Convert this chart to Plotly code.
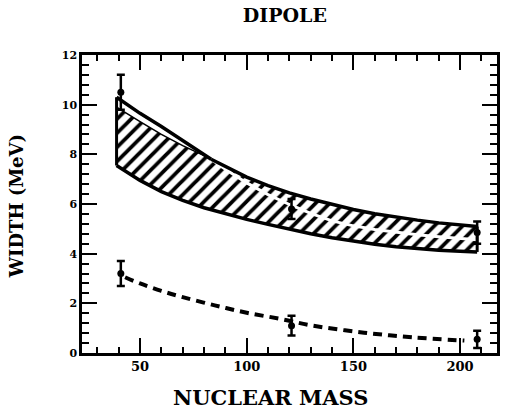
import numpy as np
import plotly.graph_objects as go

# ---------------- data ----------------
band_x = [39, 45, 50, 60, 70, 80, 90, 100, 110, 120, 130, 140, 150, 160, 170, 180, 190, 200, 208]
band_upper = [9.9, 9.6, 9.32, 8.8, 8.35, 7.95, 7.5, 7.08, 6.74, 6.45, 6.2, 5.98, 5.78, 5.61, 5.47, 5.35, 5.24, 5.15, 5.09]
band_lower = [7.55, 7.2, 6.95, 6.5, 6.15, 5.85, 5.6, 5.38, 5.18, 4.98, 4.8, 4.64, 4.5, 4.38, 4.28, 4.2, 4.14, 4.1, 4.07]
curve_c = [10.3, 9.95, 9.65, 9.12, 8.55, 8.0, 7.4, 6.85, 6.38, 5.98, 5.62, 5.32, 5.12, 4.97, 4.86, 4.76, 4.68, 4.61, 4.56]

dash_x = [43, 50, 60, 70, 85, 100, 116, 131, 155, 178, 202]
dash_y = [3.05, 2.8, 2.5, 2.25, 1.92, 1.62, 1.37, 1.1, 0.82, 0.63, 0.5]

pts_x = [41, 121, 208]
upper_pts_y = [10.5, 5.8, 4.85]
upper_pts_err = [0.7, 0.4, 0.45]
lower_pts_y = [3.2, 1.1, 0.55]
lower_pts_err = [0.5, 0.4, 0.35]

x_tick_step = 50
y_tick_step = 2

# ---------------- figure ----------------
fig = go.Figure()
bx = np.array(band_x, float)
bu = np.array(band_upper, float)
bl = np.array(band_lower, float)
cc = np.array(curve_c, float)

# hatched band
fig.add_trace(go.Scatter(
    x=list(bx) + list(bx[::-1]), y=list(bu) + list(bl[::-1]),
    fill="toself", mode="lines", line=dict(width=0, color="black"),
    fillcolor="white",
    fillpattern=dict(shape="/", fgcolor="black", bgcolor="white", size=10, solidity=0.38),
    hoverinfo="skip"))

# crossing of curve C with the upper band edge
d = cc - bu
k = int(np.argmax(d < 0))
t = d[k - 1] / (d[k - 1] - d[k])
xc = bx[k - 1] + t * (bx[k] - bx[k - 1])
yc = bu[k - 1] + t * (bu[k] - bu[k - 1])

cx_out = list(bx[:k]) + [xc]
cy_out = list(cc[:k]) + [yc]
cx_in = [xc] + list(bx[k:])
cy_in = [yc] + list(cc[k:])
ux_in = list(bx[:k]) + [xc]
uy_in = list(bu[:k]) + [yc]
ux_out = [xc] + list(bx[k:])
uy_out = [yc] + list(bu[k:])

black = "black"
fig.add_trace(go.Scatter(x=cx_in, y=cy_in, mode="lines",
                         line=dict(color="white", width=3), hoverinfo="skip"))
fig.add_trace(go.Scatter(x=ux_in, y=uy_in, mode="lines",
                         line=dict(color=black, width=1.5), hoverinfo="skip"))
fig.add_trace(go.Scatter(x=cx_out, y=cy_out, mode="lines",
                         line=dict(color=black, width=3.5), hoverinfo="skip"))
fig.add_trace(go.Scatter(x=ux_out, y=uy_out, mode="lines",
                         line=dict(color=black, width=3.5), hoverinfo="skip"))
fig.add_trace(go.Scatter(x=list(bx), y=list(bl), mode="lines",
                         line=dict(color=black, width=3.5), hoverinfo="skip"))
fig.add_trace(go.Scatter(x=[bx[0], bx[0]], y=[bl[0], cc[0]], mode="lines",
                         line=dict(color=black, width=3), hoverinfo="skip"))
fig.add_trace(go.Scatter(x=[bx[-1], bx[-1]], y=[bl[-1], bu[-1]], mode="lines",
                         line=dict(color=black, width=3), hoverinfo="skip"))

# dashed curve
fig.add_trace(go.Scatter(x=dash_x, y=dash_y, mode="lines", line_shape="spline",
                         line=dict(color=black, width=4, dash="9px,6px"), hoverinfo="skip"))

# data points with error bars
for ys, es in ((upper_pts_y, upper_pts_err), (lower_pts_y, lower_pts_err)):
    fig.add_trace(go.Scatter(
        x=pts_x, y=ys, mode="markers",
        marker=dict(color=black, size=7, symbol="circle"),
        error_y=dict(type="data", array=es, color=black, thickness=2.5, width=4),
        hoverinfo="skip"))

fig.update_layout(
    template="none",
    width=506, height=413,
    margin=dict(l=82, r=9, t=55, b=60),
    plot_bgcolor="white", paper_bgcolor="white",
    showlegend=False,
    title=dict(text="DIPOLE", x=0.563, xref="container", xanchor="center",
               y=1 - 15 / 413, yref="container", yanchor="middle",
               font=dict(family="DejaVu Serif", size=19, color="black", weight="bold")),
    xaxis=dict(range=[22.8, 217.3], tickmode="linear", tick0=0, dtick=x_tick_step,
               ticks="inside", ticklen=15, tickwidth=2,
               tickcolor="black", showline=True, linewidth=2.5, linecolor="black",
               mirror="allticks", showgrid=False, zeroline=False,
               tickfont=dict(family="DejaVu Serif", size=13, color="black", weight="bold"),
               minor=dict(dtick=10, tick0=0, ticks="inside", ticklen=6, tickwidth=2,
                          tickcolor="black", showgrid=False)),
    yaxis=dict(range=[0, 12], tickmode="linear", tick0=0, dtick=y_tick_step,
               ticks="inside", ticklen=15, tickwidth=2,
               tickcolor="black", showline=True, linewidth=2.5, linecolor="black",
               mirror="allticks", showgrid=False, zeroline=False,
               tickfont=dict(family="DejaVu Serif", size=11, color="black", weight="bold"),
               minor=dict(dtick=0.4, tick0=0, ticks="inside", ticklen=7, tickwidth=2,
                          tickcolor="black", showgrid=False)),
    annotations=[
        dict(text="NUCLEAR MASS", xref="paper", yref="paper", x=0.455, y=-0.151,
             xanchor="center", yanchor="middle", showarrow=False,
             font=dict(family="DejaVu Serif", size=21, color="black", weight="bold")),
        dict(text="WIDTH (MeV)", xref="paper", yref="paper", x=-0.157, y=0.492,
             xanchor="center", yanchor="middle", showarrow=False, textangle=-90,
             font=dict(family="DejaVu Serif", size=18, color="black", weight="bold")),
    ],
)

fig.write_html("out.html")
